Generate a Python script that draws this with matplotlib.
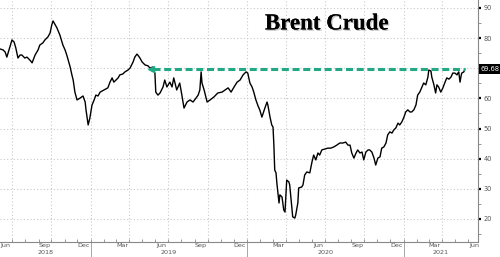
import matplotlib
matplotlib.use("Agg")
import matplotlib.pyplot as plt
import matplotlib.dates as mdates
import matplotlib.patheffects as pe
import matplotlib.transforms as mtransforms
from matplotlib.ticker import MultipleLocator
import pandas as pd

# Brent crude, days counted from 1 Jun 2018
START = "2018-06-01"
days = [
    2, 9, 14, 18, 23, 30, 35, 39, 44, 49, 53, 60, 65, 72, 77, 84, 91, 95, 102, 107,
    114, 119, 123, 126, 130, 135, 142, 149, 154, 158, 166, 170, 173, 177, 182, 189,
    196, 201, 203, 208, 212, 217, 222, 226, 231, 236, 245, 254, 259, 264, 268, 273,
    278, 282, 289, 294, 301, 306, 313, 317, 322, 324, 329,
    334, 341, 348, 352, 359, 364, 366, 371, 376, 383, 387, 392, 399, 404, 408, 415,
    422, 427, 432, 439, 446, 453, 460, 465, 469, 472, 474, 479, 486, 493, 502, 511,
    521, 528, 535, 542, 549, 556, 563, 570, 577, 581, 586,
    591, 595, 600, 605, 609, 614, 621, 626, 628, 633, 637, 640, 642, 644, 647, 649,
    654, 656, 661, 665, 668, 672, 677, 679, 684, 686, 691, 693, 698, 700, 707, 710,
    714, 719, 726, 731, 735, 740, 745, 749, 754, 761, 768, 775, 782, 789, 796, 803,
    810, 815,
    820, 824, 829, 834, 838, 843, 848, 852, 857, 862, 866, 871, 876, 880, 885, 890,
    894, 899, 904, 908, 913, 918, 922, 927, 932, 936, 941, 946, 950, 955, 960, 964,
    969, 974, 978, 983, 988, 992, 997, 1002, 1004, 1009, 1011, 1013, 1016, 1020,
    1023, 1027, 1032, 1037, 1042, 1046, 1051, 1056, 1060, 1065, 1070, 1072, 1074,
    1077, 1079, 1081, 1086, 1088,
]
brent = [
    76.4, 76.1, 75.4, 73.7, 76.1, 79.4, 78.7, 76.7, 73.4, 74.4, 74.4, 73.4, 73.7,
    72.7, 71.8, 74.4, 76.1, 77.7, 78.4, 79.4, 80.4, 81.7, 84.4, 85.7, 84.7, 83.4,
    81.0, 77.7, 76.1, 74.4, 70.4, 67.8, 66.1, 62.1, 59.5, 60.1, 60.8, 58.8, 56.2,
    51.2, 53.5, 57.8, 59.5, 61.1, 60.8, 62.1, 62.8, 63.5, 65.4, 66.8, 65.4, 66.1,
    66.8, 67.8, 68.1, 68.8, 69.4, 70.1, 72.1, 73.7, 74.7, 74.4, 73.4,
    72.1, 71.1, 70.8, 70.1, 70.4, 68.4, 62.1, 61.1, 61.8, 63.8, 66.1, 63.8, 65.4,
    63.8, 66.8, 62.8, 65.1, 61.1, 56.8, 58.8, 59.5, 58.8, 60.1, 61.1, 62.8, 68.8,
    65.1, 62.8, 58.8, 59.5, 60.5, 61.8, 62.1, 62.8, 63.5, 62.1, 63.8, 65.4, 66.1,
    67.8, 68.8, 68.4, 65.1,
    63.8, 62.1, 59.5, 57.5, 56.2, 53.8, 56.8, 58.8, 57.8, 53.8, 51.2, 50.5, 44.5,
    36.2, 35.3, 31.9, 25.3, 28.0, 27.3, 23.0, 22.3, 32.9, 32.3, 31.3, 24.0, 20.7,
    20.3, 21.3, 25.3, 30.3, 30.6, 31.3, 34.6, 35.6, 35.3, 38.9, 41.2, 39.6, 41.9,
    41.2, 42.9, 43.2, 43.5, 43.5, 43.9, 44.5, 45.2, 45.2, 45.5, 44.5,
    44.5, 41.9, 40.2, 41.9, 42.9, 41.9, 42.2, 39.6, 42.2, 42.9, 42.9, 42.2, 40.2,
    37.9, 40.2, 40.6, 43.5, 43.9, 45.2, 47.9, 48.9, 48.5, 49.5, 50.2, 51.8, 51.2,
    52.2, 53.8, 55.5, 56.2, 55.5, 55.5, 56.2, 57.8, 61.1, 62.1, 63.8, 65.1, 64.5,
    67.1, 69.4, 69.1, 67.1, 66.1, 64.5, 61.8, 64.5, 63.8, 62.1, 63.5, 65.4, 66.8,
    66.4, 67.1, 68.4, 68.4, 67.8, 68.4, 68.8, 65.4, 67.1, 68.4, 68.8, 69.68,
]
last_price = 69.68
arrow_from = "2019-05-22"
years = ["2018", "2019", "2020", "2021"]
y_ticks = [20, 30, 40, 50, 60, 70, 80, 90]

GRID = "#c9c9c9"
TXT = "#555555"
TEAL = "#22a884"


def main():
    dates = pd.Timestamp(START) + pd.to_timedelta(days, unit="D")
    x0, x1 = pd.Timestamp("2018-06-03"), pd.Timestamp("2021-06-24")

    fig = plt.figure(figsize=(5, 2.57), dpi=100)
    ax = fig.add_axes([0, 15 / 257, 478 / 500, 242 / 257])

    # quarterly vertical grid
    for q in pd.date_range("2018-07-01", "2021-04-01", freq="QS-JAN"):
        ax.axvline(q, color=GRID, lw=0.8, ls=(0, (1, 2)), zorder=0)
    ax.set_yticks(y_ticks)
    # the price tag sits where the 70 label would be
    ax.set_yticklabels([str(t) if abs(t - last_price) > 3 else "" for t in y_ticks])
    ax.yaxis.grid(True, color=GRID, lw=0.8, ls=(0, (1, 2)))
    ax.set_axisbelow(True)

    ax.plot(dates, brent, color="black", lw=1.0, zorder=3)

    # dashed arrow at the latest price
    ax.plot([pd.Timestamp(arrow_from) + pd.Timedelta(days=4), dates[-1]],
            [last_price, last_price], color=TEAL, lw=2.2,
            dashes=(2.3, 1.2), zorder=4)
    ax.plot(pd.Timestamp(arrow_from), last_price, marker="<", ms=5,
            color=TEAL, zorder=4)

    ax.set_xlim(x0, x1)
    ax.set_ylim(12.36, 92.65)

    for s in ["top", "left"]:
        ax.spines[s].set_visible(False)
    for s in ["bottom", "right"]:
        ax.spines[s].set_color("#888888")
        ax.spines[s].set_linewidth(0.8)

    ax.yaxis.tick_right()
    ax.yaxis.set_minor_locator(MultipleLocator(5))
    ax.tick_params(axis="y", which="major", direction="out", length=2.5,
                   width=1.6, color="black", labelsize=4.8, labelcolor=TXT, pad=1.5)
    ax.tick_params(axis="y", which="minor", direction="out", length=2,
                   width=0.6, color="#888888")

    ax.xaxis.set_major_locator(mdates.MonthLocator(bymonth=[3, 6, 9, 12], bymonthday=15))
    ax.xaxis.set_major_formatter(mdates.DateFormatter("%b"))
    ax.xaxis.set_minor_locator(mdates.MonthLocator())
    ax.tick_params(axis="x", which="major", length=0, labelsize=4.6,
                   labelcolor=TXT, pad=1)
    ax.tick_params(axis="x", which="minor", direction="in", length=2,
                   width=0.6, color="#888888")

    # year row under the months
    trans = mtransforms.blended_transform_factory(ax.transData, ax.transAxes)
    bounds = [x0] + [pd.Timestamp(y + "-01-01") for y in years[1:]] + [x1]
    for i, y in enumerate(years):
        mid = bounds[i] + (bounds[i + 1] - bounds[i]) / 2
        ax.text(mid, -0.044, y, transform=trans, ha="center", va="center",
                fontsize=4.6, color=TXT)
    for b in bounds[1:-1]:
        ax.plot([b, b], [0, -0.062], transform=trans, color="#999999",
                lw=0.6, clip_on=False)

    # price tag on the right axis
    ytrans = mtransforms.blended_transform_factory(ax.transAxes, ax.transData)
    ax.text(1.006, last_price, f"{last_price:.2f}", transform=ytrans,
            ha="left", va="center", fontsize=4.8, color="white", zorder=10,
            bbox=dict(boxstyle="square,pad=0.3", fc="black", ec="none"))

    fig.text(0.653, 0.907, "Brent Crude", ha="center", va="center",
             fontsize=16.5, fontweight="bold", family="Liberation Serif",
             color="black",
             path_effects=[pe.withSimplePatchShadow(offset=(1, -1),
                                                    shadow_rgbFace="#888888",
                                                    alpha=0.45),
                           pe.Normal()])

    fig.savefig("out.png", dpi=100)
    plt.close(fig)


if __name__ == "__main__":
    main()
